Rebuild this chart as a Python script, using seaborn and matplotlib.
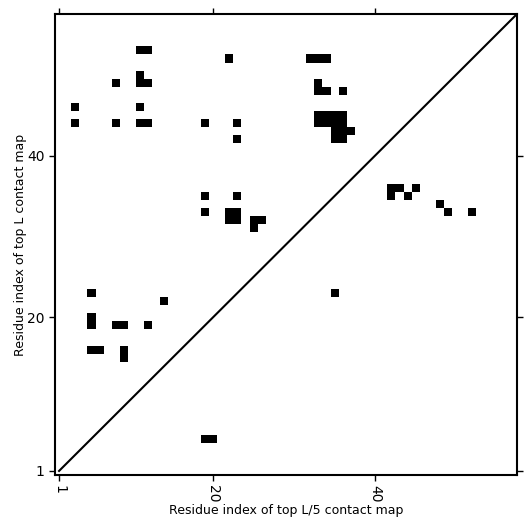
import numpy as np
import seaborn as sns
import matplotlib.pyplot as plt
from matplotlib.colors import ListedColormap

L = 57
# contacts as (x residue, y residue), 1-based
res_x = [11, 12, 22, 32, 33, 34,
         11, 8, 11, 12, 33,
         33, 34, 36,
         3, 11,
         33, 34, 35, 36,
         3, 8, 11, 12, 19, 23, 33, 34, 35, 36,
         35, 36, 37,
         23, 35, 36,
         42, 43, 45, 42, 44,
         19, 23,
         48,
         19, 22, 23, 49, 52,
         22, 23, 25, 26, 25,
         5, 35,
         14,
         5, 5, 8, 9, 12,
         5, 6, 9, 9,
         19, 20]
res_y = [53, 53, 52, 52, 52, 52,
         50, 49, 49, 49, 49,
         48, 48, 48,
         46, 46,
         45, 45, 45, 45,
         44, 44, 44, 44, 44, 44, 44, 44, 44, 44,
         43, 43, 43,
         42, 42, 42,
         36, 36, 36, 35, 35,
         35, 35,
         34,
         33, 33, 33, 33, 33,
         32, 32, 32, 32, 31,
         23, 23,
         22,
         20, 19, 19, 19, 19,
         16, 16, 16, 15,
         5, 5]
tick_vals = [1, 20, 40]

mat = np.zeros((L, L))
for x, y in zip(res_x, res_y):
    mat[y - 1, x - 1] = 1

fig = plt.figure(figsize=(5.31, 5.31), dpi=100)
ax = fig.add_axes([55 / 531, 56 / 531, 462 / 531, 461 / 531])
sns.heatmap(mat, cmap=ListedColormap(['white', 'black']), cbar=False,
            xticklabels=False, yticklabels=False, ax=ax)
ax.invert_yaxis()
ax.set_xlim(0, L)
ax.set_ylim(0, L)

# diagonal
ax.plot([0.5, L], [0.5, L], color='black', lw=1.5)

for s in ax.spines.values():
    s.set_visible(True)
    s.set_linewidth(1.5)
    s.set_color('black')

pos = [v - 0.5 for v in tick_vals]
ax.set_xticks(pos)
ax.set_xticklabels([str(v) for v in tick_vals], rotation=270)
ax.set_yticks(pos)
ax.set_yticklabels([str(v) for v in tick_vals], rotation=0)
ax.tick_params(top=True, right=True, direction='out', length=4, width=1, labelsize=10)
ax.set_xlabel('Residue index of top L/5 contact map', fontsize=9, labelpad=1)
ax.set_ylabel('Residue index of top L contact map', fontsize=9, labelpad=0)

fig.savefig('out.png', dpi=100)
